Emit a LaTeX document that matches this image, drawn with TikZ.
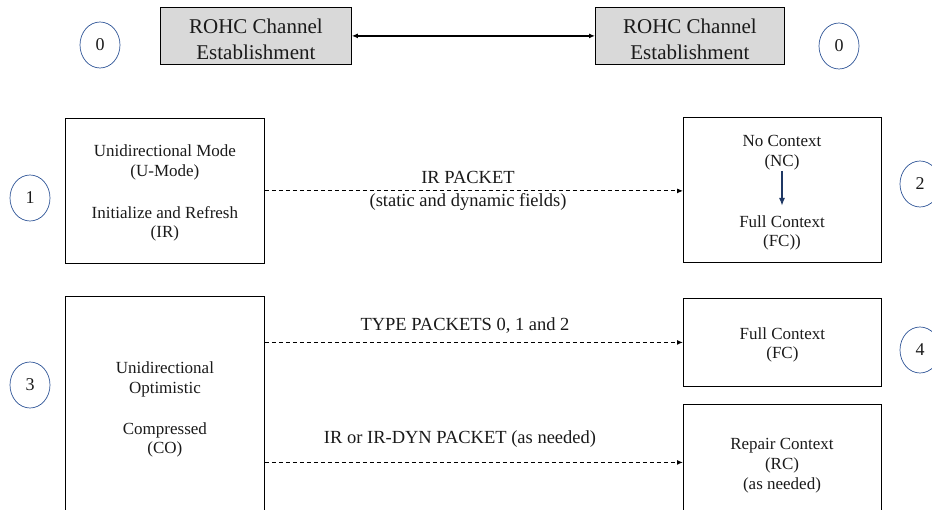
\documentclass[tikz,border=0pt]{standalone}
\usepackage{fontspec}
\setmainfont{Liberation Serif}
\usetikzlibrary{arrows.meta,shapes.geometric}
\definecolor{ringblue}{HTML}{2F5597}
\definecolor{navy}{HTML}{1F3864}
\definecolor{boxgray}{HTML}{D9D9D9}
\definecolor{ink}{HTML}{1A1A1A}
\tikzset{
  stagebox/.style={draw=black, line width=0.8pt, inner sep=0pt, anchor=north west},
  headbox/.style={stagebox, fill=boxgray},
  headtext/.style={text=ink, font=\fontsize{21}{26}\selectfont, align=center, yshift=-3pt},
  bodytext/.style={text=ink, font=\fontsize{17}{19.5}\selectfont, align=center, yshift=-2.5pt},
  labeltext/.style={text=ink, font=\fontsize{18.5}{23}\selectfont, align=center, yshift=-2.5pt},
  stepring/.style={ellipse, draw=ringblue, line width=0.7pt, minimum width=40pt, minimum height=46pt, inner sep=0pt, text=ink, font=\fontsize{18}{20}\selectfont},
  packet/.style={dash pattern=on 4pt off 3pt, line width=1.3pt, -{Latex[length=6pt,width=5pt]}},
}
\begin{document}
\begin{tikzpicture}[x=1pt, y=-1pt]
\useasboundingbox (0,0) rectangle (932,510);

% channel establishment on both ends
\node[headbox, minimum width=191pt, minimum height=57pt] (estL) at (160,7) {};
\node[headtext] (estLtxt) at (estL.center) {ROHC Channel\\Establishment};
\node[headbox, minimum width=189pt, minimum height=57pt] (estR) at (595,7) {};
\node[headtext] (estRtxt) at (estR.center) {ROHC Channel\\Establishment};
\draw[line width=1.4pt, {Latex[length=6pt,width=5pt]}-{Latex[length=6pt,width=5pt]}] (estL.east) -- (estR.west);

% step markers
\node[stepring] (s0L) at (100,45) {0};
\node[stepring] (s0R) at (839,46) {0};
\node[stepring] (s1) at (30,198) {1};
\node[stepring] (s2) at (920,184) {2};
\node[stepring] (s3) at (30,385) {3};
\node[stepring] (s4) at (920,350) {4};

% compressor side
\node[stagebox, minimum width=199pt, minimum height=145pt] (umode) at (65,118) {};
\node[bodytext] (umodetxt) at (umode.center) {Unidirectional Mode\\(U-Mode)\\[22.5pt]Initialize and Refresh\\(IR)};
\node[stagebox, minimum width=199pt, minimum height=222pt] (omode) at (65,296) {};
\node[bodytext] (omodetxt) at (omode.center) {Unidirectional\\Optimistic\\[21.5pt]Compressed\\(CO)};

% decompressor side
\node[stagebox, minimum width=198pt, minimum height=145pt] (ctx) at (683,117) {};
\node[bodytext] (nc) at (782,150) {No Context\\(NC)};
\node[bodytext] (fc) at (782,230.5) {Full Context\\(FC))};
\draw[navy, line width=1.8pt, -{Latex[length=8pt,width=6pt]}] (782,171) -- (782,206);
\node[stagebox, minimum width=198pt, minimum height=88pt] (full) at (683,298) {};
\node[bodytext] (fulltxt) at (full.center) {Full Context\\(FC)};
\node[stagebox, minimum width=198pt, minimum height=116pt] (repair) at (683,404) {};
\node[bodytext, font=\fontsize{17}{20}\selectfont] (repairtxt) at (782,463) {Repair Context\\(RC)\\(as needed)};

% packet flows
\draw[packet, line width=1pt] (umode.east) -- (umode.east -| ctx.west);
\node[labeltext] (irlbl) at (468,188.5) {IR PACKET\\(static and dynamic fields)};
\draw[packet] (full.west -| omode.east) -- (full.west);
\node[labeltext] (typelbl) at (465,323) {TYPE PACKETS 0, 1 and 2};
\draw[packet] (repair.west -| omode.east) -- (repair.west);
\node[labeltext] (dynlbl) at (460,437) {IR or IR-DYN PACKET (as needed)};
\end{tikzpicture}
\end{document}
